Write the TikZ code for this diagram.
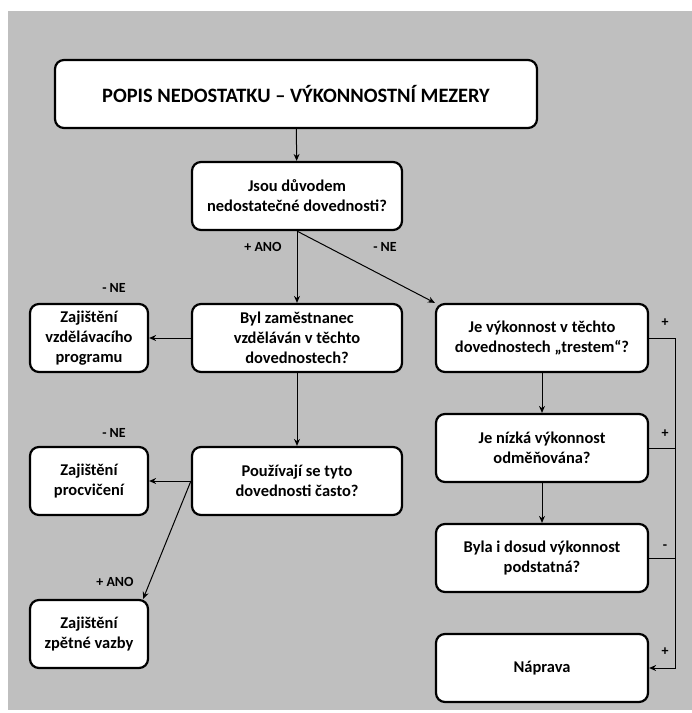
\documentclass[tikz,border=0pt]{standalone}
\usepackage{fontspec}
\setmainfont{Carlito}
\usetikzlibrary{arrows.meta}
\begin{document}
\begin{tikzpicture}[x=1bp,y=-1bp]
		\tikzstyle{box}=[draw=black,line width=2.2bp,rounded corners=9bp,fill=white,align=center,
			font=\bfseries\fontsize{16.5}{20}\selectfont,inner sep=0pt]
		\tikzstyle{big}=[box,minimum width=210bp,minimum height=68bp]
		\tikzstyle{small}=[box,minimum width=118bp,minimum height=68bp]
		\tikzstyle{arr}=[-{Stealth[length=7bp,width=6bp]},line width=1bp]
		\tikzstyle{lbl}=[font=\bfseries\fontsize{14}{16}\selectfont]
		\useasboundingbox (0,0) rectangle (692,713);
		\fill[white] (0,0) rectangle (692,713);
		\fill[black!25] (8,11) rectangle (692,710);
		\node[box,minimum width=482bp,minimum height=68bp,font=\bfseries\fontsize{20.5}{24}\selectfont] (t_0) at (296,94) {POPIS NEDOSTATKU – VÝKONNOSTNÍ MEZERY};
		\node[big] (d_1) at (297,196) {Jsou důvodem\\nedostatečné dovednosti?};
		\node[big] (d_2) at (297,338) {Byl zaměstnanec\\vzděláván v těchto\\dovednostech?};
		\node[big] (d_3) at (297,481) {Používají se tyto\\dovednosti často?};
		\node[small] (z_1) at (89,338) {Zajištění\\vzdělávacího\\programu};
		\node[small] (z_2) at (89,481) {Zajištění\\procvičení};
		\node[small] (z_3) at (89,634) {Zajištění\\zpětné vazby};
		\node[big,minimum width=212bp] (v_1) at (542,338) {Je výkonnost v těchto\\dovednostech „trestem“?};
		\node[big,minimum width=212bp] (v_2) at (542,448) {Je nízká výkonnost\\odměňována?};
		\node[big,minimum width=212bp] (v_3) at (542,558) {Byla i dosud výkonnost\\podstatná?};
		\node[big,minimum width=212bp] (v_4) at (542,668) {Náprava};
		\coordinate (r_1) at (675,338);
		\draw[arr] (t_0) -- (d_1);
		\draw[arr] (d_1) -- (d_2);
		\draw[arr] (d_1.south) -- (v_1.north west);
		\draw[arr] (d_2) -- (d_3);
		\draw[arr] (d_2) -- (z_1);
		\draw[arr] (d_3) -- (z_2);
		\draw[arr] (d_3.west) -- ([xshift=-6bp]z_3.north east);
		\draw[arr] (v_1) -- (v_2);
		\draw[arr] (v_2) -- (v_3);
		\draw[arr] (v_1.east) -- (r_1) |- (v_4.east);
		\draw[line width=1bp] (v_2.east) -- (v_2.east -| r_1)
			(v_3.east) -- (v_3.east -| r_1);
		\node[lbl] (a_1) at (263,247) {+ ANO};
		\node[lbl] (a_2) at (385,247) {- NE};
		\node[lbl] (a_3) at (114,288) {- NE};
		\node[lbl] (a_4) at (114,433) {- NE};
		\node[lbl] (a_5) at (115,582) {+ ANO};
		\node[lbl] (p_1) at (665,323) {+};
		\node[lbl] (p_2) at (665,434) {+};
		\node[lbl] (p_3) at (665,547) {-};
		\node[lbl] (p_4) at (665,652) {+};
	\end{tikzpicture}
\end{document}
